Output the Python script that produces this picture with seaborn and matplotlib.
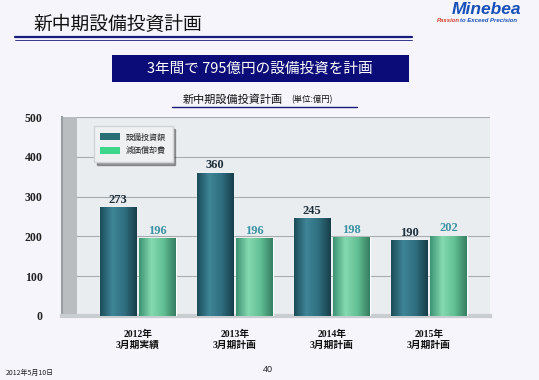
import matplotlib
matplotlib.use("Agg")
import matplotlib.pyplot as plt
import seaborn as sns
import numpy as np
import pandas as pd
from matplotlib.colors import LinearSegmentedColormap
from matplotlib.patches import Rectangle, Patch

# data
periods = ["2012年\n3月期実績", "2013年\n3月期計画", "2014年\n3月期計画", "2015年\n3月期計画"]
series_names = ["設備投資額", "減価償却費"]
capex = [273, 360, 245, 190]
depreciation = [196, 196, 198, 202]
y_ticks = [0, 100, 200, 300, 400, 500]

JP = ["Noto Sans CJK JP", "DejaVu Sans"]
SERIF = ["Liberation Serif", "Noto Sans CJK JP"]

sns.set_theme(style="white")
plt.rcParams["font.family"] = JP

df = pd.DataFrame({
    "period": periods * 2,
    "series": [series_names[0]] * 4 + [series_names[1]] * 4,
    "value": capex + depreciation,
})

fig = plt.figure(figsize=(5.39, 3.80), dpi=100)
fig.patch.set_facecolor("#f6f5fb")

# slide header
fig.text(33 / 539, 1 - 24 / 380, "新中期設備投資計画", fontsize=13.5, color="#111111",
         va="center", ha="left", family=JP)
fig.add_artist(plt.Line2D([15 / 539, 412 / 539], [1 - 37 / 380] * 2, color="#1a1a7a", lw=1.6))
fig.add_artist(plt.Line2D([15 / 539, 412 / 539], [1 - 40 / 380] * 2, color="#1a1a7a", lw=0.6))
fig.text(521 / 539, 1 - 10 / 380, "Minebea", fontsize=12.5, color="#1650b8", fontweight="bold",
         fontstyle="italic", ha="right", va="center", family=["Liberation Sans"])
fig.text(437 / 539, 1 - 20 / 380, "Passion", fontsize=4.3, color="#d8402a",
         fontstyle="italic", fontweight="bold", ha="left", va="center", family=["Liberation Sans"])
fig.text(460 / 539, 1 - 20 / 380, "to Exceed Precision", fontsize=4.3, color="#1650b8",
         fontstyle="italic", fontweight="bold", ha="left", va="center", family=["Liberation Sans"])

# banner
fig.add_artist(Rectangle((112 / 539, 1 - 82 / 380), (409 - 112) / 539, 27 / 380,
                         transform=fig.transFigure, facecolor="#0c0c78", edgecolor="none"))
fig.text(260 / 539, 1 - 69 / 380, "3年間で 795億円の設備投資を計画", fontsize=10.5,
         color="white", ha="center", va="center", family=JP)

# chart subtitle
fig.text(283 / 539, 1 - 100 / 380, "新中期設備投資計画", fontsize=8, color="#111111",
         ha="right", va="center", family=JP)
fig.text(291 / 539, 1 - 100 / 380, "(単位:億円)", fontsize=6, color="#111111",
         ha="left", va="center", family=JP)
fig.add_artist(plt.Line2D([172 / 539, 357 / 539], [1 - 107 / 380] * 2, color="#1a1a7a", lw=1.0))

# footer
fig.text(6 / 539, 1 - 373 / 380, "2012年5月10日", fontsize=5, fontstyle="italic",
         color="#222222", ha="left", va="center", family=JP)
fig.text(268 / 539, 1 - 370 / 380, "40", fontsize=6.5, color="#222222",
         ha="center", va="center", family=["Liberation Sans"])

ax = fig.add_axes([62 / 539, 64 / 380, 428 / 539, 199 / 380])
ax.set_facecolor("#e9edef")

dark = "#2b6b79"
light = "#58c497"
sns.barplot(data=df, x="period", y="value", hue="series", palette=[dark, light],
            width=0.82, gap=0.08, ax=ax, legend=False, zorder=3)

# cylinder-like shading clipped to each bar
cm_dark = LinearSegmentedColormap.from_list("d", ["#1c4d59", "#3e8597", "#2f6f80", "#173f4a"])
cm_light = LinearSegmentedColormap.from_list("l", ["#3d9474", "#84d9b0", "#62bf94", "#367f63"])
grad = np.linspace(0, 1, 64).reshape(1, -1)
for container, cmap in zip(ax.containers, [cm_dark, cm_light]):
    for patch in container:
        x0, w, h = patch.get_x(), patch.get_width(), patch.get_height()
        img = ax.imshow(grad, extent=(x0, x0 + w, 0, h), cmap=cmap, aspect="auto",
                        zorder=4, interpolation="bilinear")
        img.set_clip_path(patch)
ax.set_xlim(-0.78, 3.63)
ax.set_ylim(0, 500)

# left side wall
ax.add_patch(Rectangle((0, 0), 0.035, 1, transform=ax.transAxes, facecolor="#b9bdc0",
                       edgecolor="none", zorder=2))

ax.bar_label(ax.containers[0], padding=1, fontsize=9, fontweight="bold",
             color="#1e2f3c", family=SERIF, zorder=6)
ax.bar_label(ax.containers[1], padding=1, fontsize=9, fontweight="bold",
             color="#3d93a6", family=SERIF, zorder=6)

ax.set_yticks(y_ticks)
ax.set_yticklabels([str(t) for t in y_ticks], fontsize=8.5, fontweight="bold",
                   family=SERIF, color="#222222")
ax.yaxis.grid(True, color="#a8acae", lw=0.8, zorder=0)
ax.tick_params(axis="y", length=6, width=1.2, color="#444444", pad=8)
ax.tick_params(axis="x", length=0, pad=10)
ax.set_xticks(range(4))
ax.set_xticklabels(periods, fontsize=7, fontweight="bold", family=SERIF,
                   color="#111111", linespacing=1.3)
ax.set_xlabel("")
ax.set_ylabel("")

for side in ["top", "right"]:
    ax.spines[side].set_visible(False)
ax.spines["left"].set_color("#9a9fa2")
ax.spines["left"].set_linewidth(1.5)
ax.spines["bottom"].set_color("#c9cdcf")
ax.spines["bottom"].set_linewidth(3)

handles = [Patch(facecolor="#2a6e76", edgecolor="none"), Patch(facecolor="#3ed68a", edgecolor="none")]
leg = ax.legend(handles, series_names, loc="upper left", bbox_to_anchor=(0.065, 0.975),
                frameon=True, fancybox=False, shadow=True,
                handlelength=2.4, handleheight=0.9, borderpad=0.8, labelspacing=0.6,
                prop={"family": JP, "size": 5.8})
leg.get_frame().set_facecolor("#eef0f2")
leg.get_frame().set_edgecolor("#d0d4d6")
leg.set_zorder(7)

fig.savefig("out.png", dpi=100, facecolor=fig.get_facecolor())
